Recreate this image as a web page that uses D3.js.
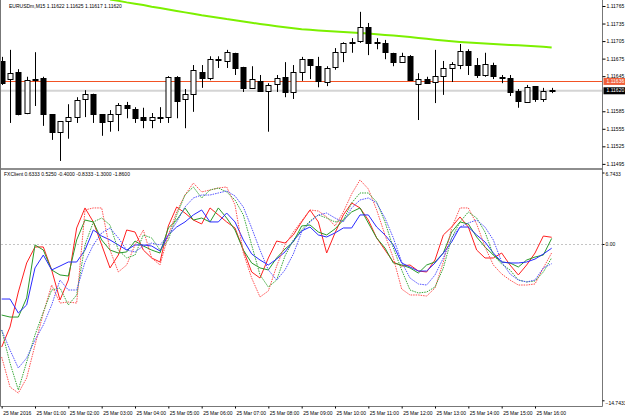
<!DOCTYPE html>
<html><head><meta charset="utf-8">
<script src="https://d3js.org/d3.v7.min.js"></script>
<style>
  body { margin: 0; background: #fff; }
  text { font-family: "Liberation Sans", Arial, sans-serif; font-size: 5px; }
</style>
</head><body>
<script>
// EURUSD M15 candles, 25 Mar 2016 00:00 .. 16:30
const opens  = [1.11671,1.11640,1.11652,1.11582,1.11638,1.11642,1.11580,1.11550,1.11568,1.11575,1.11606,1.11615,1.11580,1.11568,1.11580,1.11596,1.11589,1.11575,1.11570,1.11575,1.11575,1.11644,1.11606,1.11615,1.11652,1.11642,1.11673,1.11671,1.11685,1.11661,1.11625,1.11637,1.11620,1.11632,1.11644,1.11618,1.11652,1.11674,1.11662,1.11635,1.11661,1.11686,1.11702,1.11705,1.11729,1.11703,1.11702,1.11685,1.11669,1.11679,1.11632,1.11640,1.11635,1.11645,1.11659,1.11664,1.11688,1.11664,1.11647,1.11664,1.11644,1.11642,1.11620,1.11601,1.11628,1.11606,1.11621];
const highs  = [1.11678,1.11690,1.11657,1.11644,1.11686,1.11644,1.11580,1.11568,1.11597,1.11609,1.11621,1.11615,1.11580,1.11587,1.11599,1.11601,1.11592,1.11591,1.11582,1.11592,1.11645,1.11645,1.11623,1.11664,1.11664,1.11679,1.11679,1.11690,1.11685,1.11661,1.11662,1.11647,1.11633,1.11647,1.11669,1.11664,1.11678,1.11674,1.11678,1.11662,1.11693,1.11703,1.11710,1.11755,1.11736,1.11710,1.11707,1.11685,1.11685,1.11681,1.11650,1.11644,1.11690,1.11671,1.11669,1.11700,1.11691,1.11676,1.11685,1.11668,1.11647,1.11647,1.11623,1.11630,1.11628,1.11625,1.11625];
const lows   = [1.11630,1.11565,1.11578,1.11580,1.11594,1.11560,1.11536,1.11500,1.11538,1.11565,1.11575,1.11565,1.11543,1.11550,1.11551,1.11573,1.11565,1.11556,1.11556,1.11565,1.11565,1.11573,1.11556,1.11584,1.11625,1.11638,1.11659,1.11659,1.11647,1.11618,1.11624,1.11620,1.11550,1.11618,1.11609,1.11606,1.11637,1.11640,1.11626,1.11628,1.11656,1.11669,1.11685,1.11702,1.11681,1.11691,1.11674,1.11662,1.11669,1.11638,1.11570,1.11632,1.11599,1.11613,1.11635,1.11657,1.11647,1.11642,1.11644,1.11640,1.11633,1.11611,1.11591,1.11601,1.11601,1.11601,1.11616];
const closes = [1.11633,1.11650,1.11580,1.11638,1.11640,1.11580,1.11550,1.11568,1.11575,1.11604,1.11615,1.11580,1.11567,1.11580,1.11596,1.11591,1.11573,1.11570,1.11575,1.11573,1.11644,1.11603,1.11615,1.11656,1.11642,1.11674,1.11674,1.11686,1.11659,1.11625,1.11640,1.11620,1.11630,1.11642,1.11618,1.11652,1.11674,1.11664,1.11637,1.11659,1.11686,1.11702,1.11703,1.11729,1.11702,1.11702,1.11686,1.11669,1.11679,1.11638,1.11640,1.11633,1.11645,1.11659,1.11666,1.11688,1.11664,1.11647,1.11666,1.11645,1.11644,1.11618,1.11603,1.11626,1.11606,1.11620,1.11620];

// moving average (above the window before bar 13)
const maLine = [null,null,null,null,null,null,null,null,null,null,null,null,null,
  1.117762,1.117738,1.117712,1.117690,1.117666,1.117638,1.117614,1.117591,1.117565,1.117541,1.117517,1.117491,1.117471,1.117450,1.117426,1.117406,1.117385,1.117363,1.117343,1.117324,1.117305,1.117288,1.117271,1.117254,1.117243,1.117233,1.117223,1.117213,1.117204,1.117196,1.117187,1.117178,1.117166,1.117156,1.117146,1.117134,1.117119,1.117103,1.117088,1.117074,1.117062,1.117048,1.117036,1.117025,1.117016,1.117007,1.116999,1.116990,1.116984,1.116978,1.116972,1.116963,1.116953,1.116941];

const askPrice = 1.11636;
const bidPrice = 1.11620;
// 1.11615 sits under the bid label, so it is left out
const priceTicks = [1.11765,1.11735,1.11705,1.11675,1.11645,1.11585,1.11555,1.11525,1.11495];

// FXClient indicator buffers
const fxRed   = [-9.72,-7.83,-4.53,-1.79,-0.28,-0.28,-2.45,-5.28,-3.40,1.51,3.40,2.08,-0.09,-2.26,-1.04,1.32,1.13,-0.57,-1.32,-1.70,1.70,3.49,2.92,2.26,1.89,3.40,2.74,2.08,1.51,-0.57,-2.64,-3.21,-1.32,0.28,0.09,0.85,2.08,3.21,2.08,-0.85,1.04,2.74,3.87,3.40,2.26,0.57,-0.57,-1.70,-2.08,-1.98,-2.55,-2.64,-1.51,0.85,1.60,2.55,1.60,-0.57,-1.32,-1.32,-0.85,-1.98,-2.92,-1.98,-0.85,0.75,0.6333];
const fxGreen = [-6.70,-6.89,-6.89,-5.09,-0.09,-0.57,-2.45,-2.92,-3.02,0.38,2.26,2.08,0.38,-0.57,-0.85,-0.75,0.28,-0.19,-0.57,-0.85,1.51,2.26,3.40,2.26,2.45,2.08,3.40,2.45,1.32,-0.57,-1.79,-2.26,-2.45,-1.32,-0.47,0.19,1.70,1.79,1.13,0.85,1.42,2.26,3.02,3.40,1.98,0.57,-0.38,-1.79,-1.98,-2.26,-2.74,-1.98,-1.70,-0.85,1.13,2.08,1.89,0.66,-0.28,-1.04,-1.70,-1.79,-2.17,-1.51,-1.23,-1.04,0.525];
const fxBlue  = [-5.19,-5.19,-6.51,-5.75,-2.26,-1.04,-2.45,-2.08,-1.70,-1.70,-0.57,1.32,0.75,0.38,-0.09,-0.57,-0.09,-0.09,-0.19,-0.66,0.85,1.60,2.08,2.74,3.21,2.08,2.08,2.92,2.08,0.38,-0.94,-1.51,-1.98,-1.42,-0.75,0.28,1.23,1.60,0.85,0.66,1.04,1.51,1.51,2.74,2.74,1.60,0.85,-0.09,-1.79,-2.17,-2.55,-2.55,-1.79,-0.85,0.19,1.60,1.60,0.85,0.19,-0.85,-1.70,-1.79,-1.79,-1.70,-1.42,-0.94,-0.40];
const fxRedSlow   = [-10.66,-13.49,-14.06,-12.64,-9.53,-6.51,-3.87,-5.57,-5.47,-5.57,3.21,3.40,3.40,-0.57,-2.64,-1.98,-0.09,1.32,-1.32,-1.98,0.85,3.02,4.62,5.75,4.91,5.09,5.28,5.38,3.68,-0.85,-3.21,-5.00,-4.43,-2.08,-0.09,1.13,2.17,3.21,3.11,2.55,1.70,3.02,4.72,6.04,5.19,3.21,0.85,-1.32,-4.25,-4.81,-4.81,-4.91,-4.15,-1.70,1.51,3.40,3.40,1.89,-0.28,-1.98,-2.83,-3.40,-3.87,-3.87,-3.77,-2.26,-0.8333];
const fxGreenSlow = [-8.11,-11.23,-13.77,-11.13,-8.58,-6.42,-4.34,-4.15,-5.75,-4.81,-0.09,2.08,2.45,1.79,-0.57,-1.32,-1.04,0.85,0.57,-0.57,0.38,2.74,4.62,5.38,4.34,5.09,5.28,4.91,4.15,2.74,-0.09,-2.92,-4.06,-3.40,-1.13,0.38,1.32,2.17,2.74,2.45,2.08,2.26,3.87,4.81,4.81,3.96,2.08,-0.38,-2.45,-4.34,-4.62,-4.53,-4.06,-2.26,0.57,2.08,3.02,2.45,1.13,-1.04,-1.89,-2.45,-3.40,-3.58,-3.49,-2.64,-1.30];
const fxBlueSlow  = [-8.11,-10.00,-11.70,-10.75,-9.06,-7.64,-5.75,-3.40,-4.34,-4.34,-1.70,-0.09,1.04,1.51,0.57,-0.57,-0.75,-0.19,0.09,-0.09,0.85,2.08,3.49,4.34,4.62,4.62,4.81,5.00,4.53,3.49,1.51,-0.57,-2.45,-3.40,-2.45,-0.94,1.13,2.08,2.74,2.92,2.45,2.08,3.40,4.15,4.34,3.87,2.45,0.57,-1.70,-3.21,-3.77,-3.87,-2.92,-1.32,0.57,1.60,1.98,2.26,1.60,0.38,-1.70,-2.83,-3.40,-3.58,-3.40,-2.26,-1.86];
const fxTicks = [6.7433, 0, -14.7433];

const timeLabels = ["25 Mar 2016","25 Mar 01:00","25 Mar 02:00","25 Mar 03:00","25 Mar 04:00","25 Mar 05:00","25 Mar 06:00","25 Mar 07:00","25 Mar 08:00","25 Mar 09:00","25 Mar 10:00","25 Mar 11:00","25 Mar 12:00","25 Mar 13:00","25 Mar 14:00","25 Mar 15:00","25 Mar 16:00"];

const width = 625, height = 417;
const plotRight = 602.5, sepY = 168, bottomY = 406.5;

let svg = d3.select("body").append("svg").attr("width", width).attr("height", height);

let xScale = d3.scaleLinear().domain([0, 72]).range([1.67, 601.67]);
let yPrice = d3.scaleLinear().domain([1.11490, 1.11775]).range([166.8, 0.15]);
let yFx = d3.scaleLinear().domain([-14.7433, 6.7433]).range([400.3, 172.5]);

let defs = svg.append("defs");
defs.append("clipPath").attr("id", "clipTop")
  .append("rect").attr("x", 1).attr("y", 0).attr("width", plotRight - 1).attr("height", sepY);
defs.append("clipPath").attr("id", "clipBot")
  .append("rect").attr("x", 1).attr("y", sepY + 2).attr("width", plotRight - 1).attr("height", bottomY - sepY - 2);

//top panel
let topPanel = svg.append("g").attr("clip-path", "url(#clipTop)");

topPanel.append("line")
  .attr("x1", 1).attr("x2", plotRight)
  .attr("y1", yPrice(bidPrice)).attr("y2", yPrice(bidPrice))
  .attr("stroke", "#d4d4d4").attr("stroke-width", 2);
topPanel.append("line")
  .attr("x1", 1).attr("x2", plotRight)
  .attr("y1", Math.round(yPrice(askPrice)) + 0.5).attr("y2", Math.round(yPrice(askPrice)) + 0.5)
  .attr("stroke", "#f25224").attr("stroke-width", 1);

topPanel.append("path")
  .datum(maLine)
  .attr("fill", "none")
  .attr("stroke", "#7cf000")
  .attr("stroke-width", 2)
  .attr("d", d3.line().defined(d => d != null).x((d, i) => xScale(i)).y(d => yPrice(d)));

let candles = topPanel.selectAll("g.candle")
  .data(opens.map((o, i) => ({ i: i, o: o, h: highs[i], l: lows[i], c: closes[i] })))
  .enter().append("g").attr("class", "candle");

candles.append("line")
  .attr("x1", d => Math.round(xScale(d.i)) + 0.5)
  .attr("x2", d => Math.round(xScale(d.i)) + 0.5)
  .attr("y1", d => yPrice(d.h))
  .attr("y2", d => yPrice(d.l))
  .attr("stroke", "#000");

candles.append("rect")
  .attr("x", d => Math.round(xScale(d.i)) - 2)
  .attr("y", d => Math.round(yPrice(Math.max(d.o, d.c))) + 0.5)
  .attr("width", 5)
  .attr("height", d => Math.max(1, Math.round(Math.abs(yPrice(d.o) - yPrice(d.c)))))
  .attr("fill", d => d.c >= d.o ? "#fff" : "#000")
  .attr("stroke", "#000");

svg.append("text").attr("x", 9).attr("y", 7.5)
  .text("EURUSDm,M15  1.11622 1.11625 1.11617 1.11620");

//bottom panel
let botPanel = svg.append("g").attr("clip-path", "url(#clipBot)");

botPanel.append("line")
  .attr("x1", 1).attr("x2", plotRight)
  .attr("y1", Math.round(yFx(0)) + 0.5).attr("y2", Math.round(yFx(0)) + 0.5)
  .attr("stroke", "#c4c4c4").attr("stroke-dasharray", "2,2");

const series = [
  { v: fxRed,       color: "#ff2020", dash: null },
  { v: fxGreen,     color: "#2a9a2a", dash: null },
  { v: fxBlue,      color: "#2a2aff", dash: null },
  { v: fxRedSlow,   color: "#ff5050", dash: "1.5,1" },
  { v: fxGreenSlow, color: "#38a838", dash: "1.5,1" },
  { v: fxBlueSlow,  color: "#5050ff", dash: "1.5,1" }
];
let fxLine = d3.line().x((d, i) => xScale(i)).y(d => yFx(d));
botPanel.selectAll("path.fx")
  .data(series)
  .enter().append("path")
  .attr("class", "fx")
  .attr("fill", "none")
  .attr("stroke", d => d.color)
  .attr("stroke-width", 1)
  .attr("stroke-dasharray", d => d.dash)
  .attr("d", d => fxLine(d.v));

svg.append("text").attr("x", 4).attr("y", 176)
  .text("FXClient 0.6333 0.5250 -0.4000 -0.8333 -1.3000 -1.8600");

//frame
svg.append("rect").attr("x", 0).attr("y", sepY).attr("width", plotRight + 0.5).attr("height", 2).attr("fill", "#8e8e8e");
svg.append("line").attr("x1", plotRight).attr("x2", plotRight).attr("y1", 0).attr("y2", bottomY).attr("stroke", "#777");
svg.append("line").attr("x1", 0.5).attr("x2", 0.5).attr("y1", 0).attr("y2", bottomY).attr("stroke", "#777");
svg.append("line").attr("x1", 0.5).attr("x2", plotRight).attr("y1", bottomY).attr("y2", bottomY).attr("stroke", "#777");

//price axis
let priceAxis = d3.axisRight(yPrice).tickValues(priceTicks).tickSize(3).tickPadding(1).tickFormat(d3.format(".5f"));
let pa = svg.append("g").attr("transform", "translate(" + plotRight + ",0)").call(priceAxis);
pa.select(".domain").remove();
pa.selectAll("text").attr("font-size", "5px").attr("font-family", null).attr("fill", "#000");
pa.selectAll("line").attr("stroke", "#000");

// ask / bid labels
[{ p: askPrice, bg: "#f0603a" }, { p: bidPrice, bg: "#000" }].forEach(function(lb) {
  let yy = yPrice(lb.p);
  svg.append("rect").attr("x", plotRight + 1).attr("y", yy - 3.5).attr("width", 22).attr("height", 7).attr("fill", lb.bg);
  svg.append("text").attr("x", plotRight + 4).attr("y", yy).attr("dy", "0.32em").attr("fill", "#fff")
    .text(d3.format(".5f")(lb.p));
});

//indicator axis
let fxAxis = d3.axisRight(yFx).tickValues(fxTicks).tickSize(2).tickPadding(1)
  .tickFormat(d => d === 0 ? "0.00" : d3.format(".4f")(d));
let fa = svg.append("g").attr("transform", "translate(" + plotRight + ",0)").call(fxAxis);
fa.select(".domain").remove();
fa.selectAll("text").attr("font-size", "5px").attr("font-family", null).attr("fill", "#000")
  .attr("dy", d => d > 1 ? "0.6em" : (d < -1 ? "0.8em" : "0.32em"));
fa.selectAll("line").attr("stroke", "#000");

//time axis
let timeAxis = d3.axisBottom(xScale).tickValues(d3.range(0, 65, 4)).tickSize(2).tickPadding(3)
  .tickFormat(d => timeLabels[d / 4]);
let ta = svg.append("g").attr("transform", "translate(0," + bottomY + ")").call(timeAxis);
ta.select(".domain").remove();
ta.selectAll("text").attr("font-size", "5px").attr("font-family", null).attr("fill", "#000")
  .attr("text-anchor", "start").attr("x", 1);
ta.selectAll("line").attr("stroke", "#000");
</script>
</body></html>
